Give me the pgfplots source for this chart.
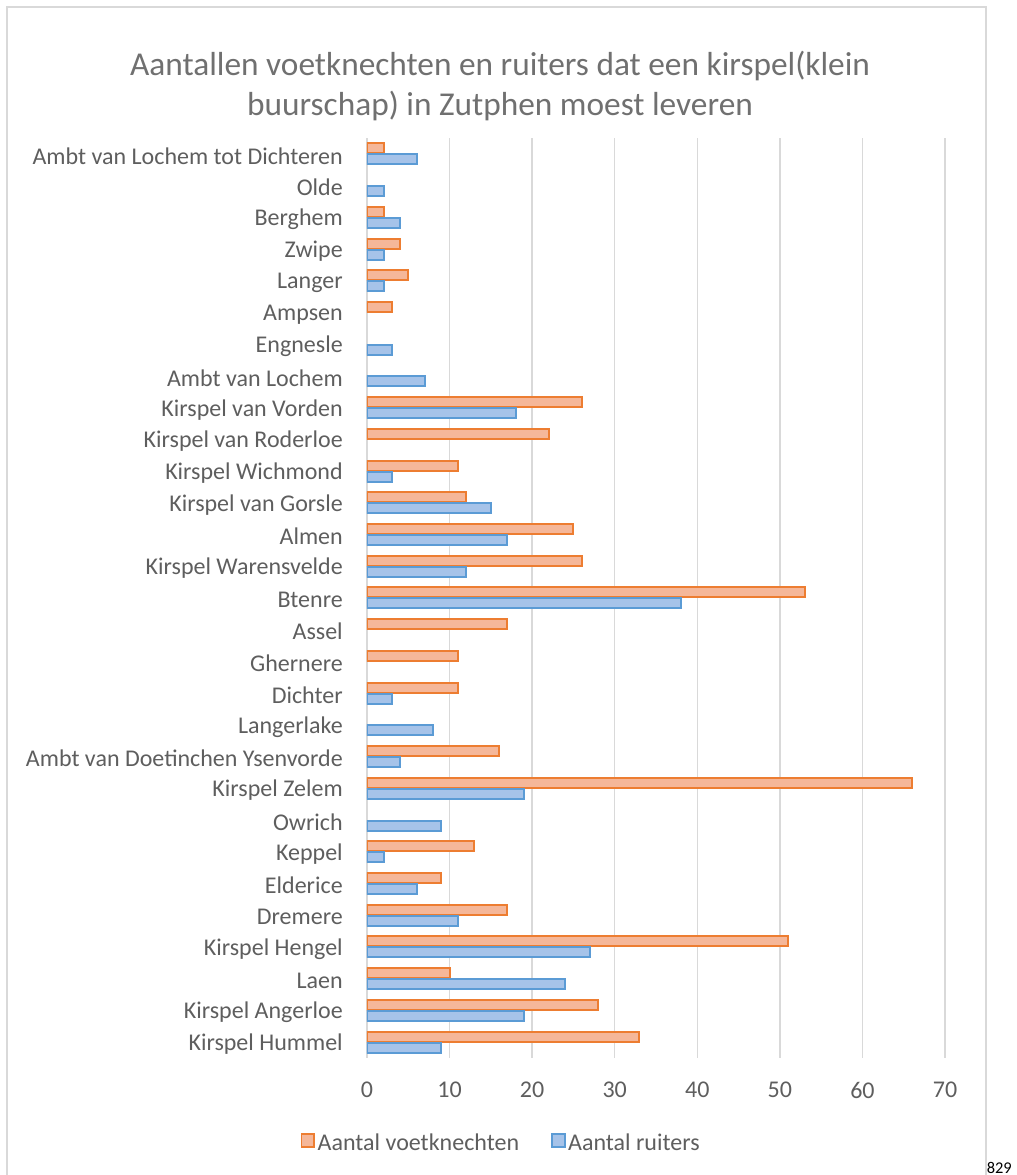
\documentclass[border=0pt]{standalone}
\usepackage{pgfplots}
\pgfplotsset{compat=1.18}
\usepackage{fontspec}
\setmainfont{Carlito}
\definecolor{txt}{HTML}{5E5E5E}
\definecolor{ttl}{HTML}{707070}
\definecolor{grd}{HTML}{D9D9D9}
\definecolor{oline}{HTML}{ED7D31}
\definecolor{ofill}{HTML}{F5B799}
\definecolor{bline}{HTML}{5B9BD5}
\definecolor{bfill}{HTML}{A6C3E9}
\pgfplotsset{sqlegend/.style={legend image code/.code={\draw[##1, line width=1.3pt] (0pt,-3pt) rectangle (9.5pt,6.5pt);}}}
\begin{document}
\begin{tikzpicture}
\useasboundingbox (0,0) rectangle (762.75pt,881.25pt);
\draw[grd, line width=1.1pt] (5.25pt,-5pt) rectangle (739.5pt,876pt);
\node[text=ttl, font=\fontsize{25}{30}\selectfont, align=center] at (375pt,817pt) {Aantallen voetknechten en ruiters dat een kirspel(klein\\buurschap) in Zutphen moest leveren};
\node[anchor=base east, font=\fontsize{12.3}{14}\selectfont, inner sep=0pt] at (759pt,1.5pt) {829};
\begin{axis}[
  at={(275.25pt,87.75pt)}, anchor=south west, scale only axis,
  width=433.5pt, height=690pt,
  xbar, bar width=7.5pt,
  xmin=0, xmax=70, ymin=-0.5, ymax=28.5,
  xtick={0,10,...,70}, ytick={0,...,28},
  yticklabels={Kirspel Hummel, Kirspel Angerloe, Laen, Kirspel Hengel, Dremere, Elderice, Keppel, {Owrich~}, Kirspel Zelem, Ambt van Doetinchen Ysenvorde, Langerlake, {Dichter~}, Ghernere, Assel, Btenre, Kirspel Warensvelde, Almen, Kirspel van Gorsle, Kirspel Wichmond, Kirspel van Roderloe, Kirspel van Vorden, Ambt van Lochem, Engnesle, Ampsen, {Langer~}, Zwipe, Berghem, Olde, Ambt van Lochem tot Dichteren},
  axis line style={draw=none}, major tick length=0pt, tick style={draw=none},
  xmajorgrids, ymajorgrids=false, grid style={grd, line width=1pt},
  ticklabel style={text=txt, font=\fontsize{18}{21.6}\selectfont},
  /pgf/number format/assume math mode=true,
  yticklabel style={anchor=east, inner sep=0pt, xshift=-18pt, yshift=-1.5pt},
  xticklabel style={anchor=center, inner sep=0pt, yshift=-24pt},
  legend columns=2,
  legend style={at={(0.2327,-0.0924)}, anchor=center, draw=none, fill=none,
    font=\fontsize{18}{21.6}\selectfont, text=txt,
    /tikz/every even column/.append style={column sep=22pt}},
  legend cell align=left,
]
\addplot[bar shift=4.125pt, fill=ofill, draw=oline, line width=1.5pt, sqlegend]
  coordinates {(33,0) (28,1) (10,2) (51,3) (17,4) (9,5) (13,6) (66,8) (16,9) (11,11) (11,12) (17,13) (53,14) (26,15) (25,16) (12,17) (11,18) (22,19) (26,20) (3,23) (5,24) (4,25) (2,26) (2,28)};
\addlegendentry{Aantal voetknechten}
\addplot[bar shift=-4.125pt, fill=bfill, draw=bline, line width=1.5pt, sqlegend]
  coordinates {(9,0) (19,1) (24,2) (27,3) (11,4) (6,5) (2,6) (9,7) (19,8) (4,9) (8,10) (3,11) (38,14) (12,15) (17,16) (15,17) (3,18) (18,20) (7,21) (3,22) (2,24) (2,25) (4,26) (2,27) (6,28)};
\addlegendentry{Aantal ruiters}
\end{axis}
\end{tikzpicture}
\end{document}
